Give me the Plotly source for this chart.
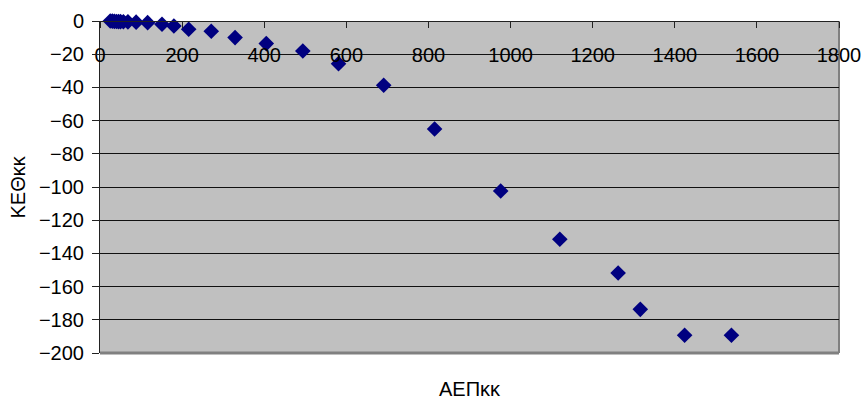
import plotly.graph_objects as go

aep = [10, 15, 20, 25, 30, 35, 40, 45, 50, 57, 68, 88, 116, 151, 180, 216,
       271, 329, 405, 494, 581, 691, 815, 976, 1120, 1262, 1316, 1424, 1538]
keth = [0.3, 0.2, 0.1, 0.0, -0.1, -0.2, -0.3, -0.35, -0.4, -0.45, -0.5, -0.7,
        -1.0, -2.0, -3.0, -5.0, -6.2, -10.0, -13.6, -18.1, -25.7, -38.7,
        -65.1, -102.4, -131.5, -151.8, -173.7, -189.3, -189.3]

x_title = "ΑΕΠκκ"
y_title = "ΚΕΘκκ"

FONT = "Liberation Sans, Arial, sans-serif"

fig = go.Figure()
fig.add_trace(go.Scatter(
    x=aep, y=keth, mode="markers",
    marker=dict(symbol="diamond", size=12, color="#000080",
                line=dict(width=0)),
    showlegend=False, cliponaxis=False,
))

fig.update_layout(
    width=863, height=400,
    margin=dict(l=100, r=24, t=21, b=47, autoexpand=False),
    paper_bgcolor="white", plot_bgcolor="#C0C0C0",
    font=dict(family=FONT, size=20, color="black"),
    xaxis=dict(
        range=[0, 1800], dtick=200, tick0=0,
        side="bottom", anchor="free", position=1,
        showgrid=False, zeroline=False, automargin=False,
        showline=True, linecolor="#222222", linewidth=1,
        ticks="outside", ticklen=6, tickcolor="#222222",
        ticklabelstandoff=10,
        tickfont=dict(family=FONT, size=20),
    ),
    yaxis=dict(
        range=[-200, 0], dtick=20, tick0=0,
        showgrid=True, gridcolor="#111111", gridwidth=1,
        zeroline=False, automargin=False,
        showline=True, linecolor="#222222", linewidth=1,
        ticks="outside", ticklen=7, tickcolor="#222222",
        ticklabelstandoff=4,
        tickfont=dict(family=FONT, size=20),
    ),
    shapes=[
        dict(type="line", xref="paper", yref="paper", x0=0, x1=1, y0=0, y1=0,
             line=dict(color="#808080", width=3), layer="below"),
        dict(type="line", xref="paper", yref="paper", x0=1, x1=1, y0=0, y1=1,
             line=dict(color="#808080", width=2), layer="below"),
    ],
    annotations=[
        dict(text=x_title, xref="paper", yref="paper", x=0.5, y=-0.108,
             xanchor="center", yanchor="middle", showarrow=False,
             font=dict(family=FONT, size=20)),
        dict(text=y_title, xref="paper", yref="paper", x=-0.1116, y=0.5,
             xanchor="center", yanchor="middle", textangle=-90,
             showarrow=False, font=dict(family=FONT, size=20)),
    ],
)

fig.write_html("out.html")
